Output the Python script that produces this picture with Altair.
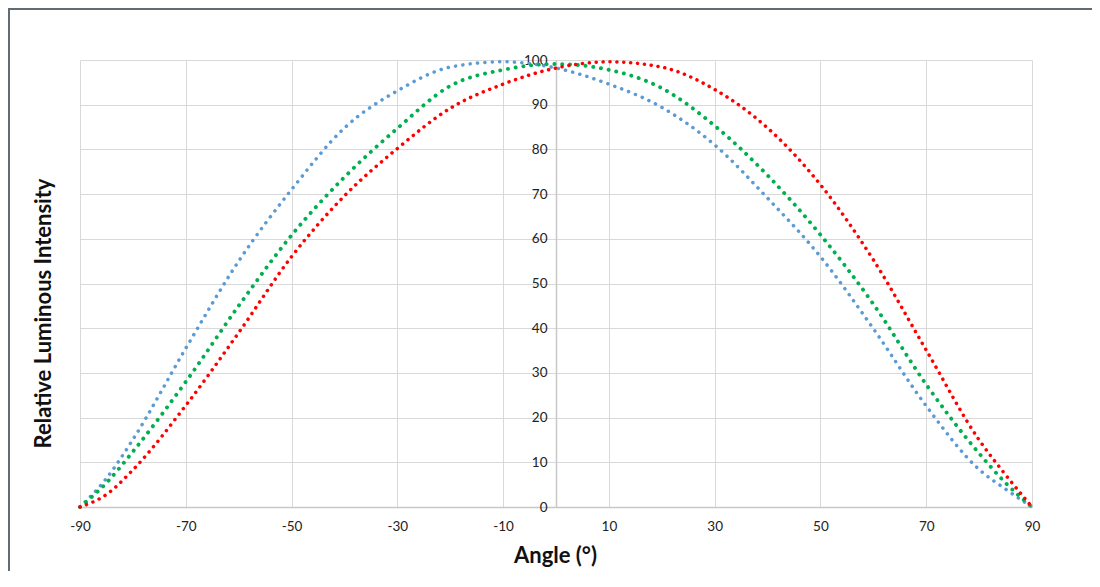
import altair as alt
import pandas as pd

angles = [-90, -85, -80, -70, -60, -50, -40, -30, -20, -10, 0, 10, 20, 30, 40, 50, 60, 70, 80, 85, 90]
blue = [0, 6.4, 15.1, 35.5, 55.0, 71.0, 84.8, 93.1, 98.4, 99.6, 98.2, 94.6, 89.4, 81.0, 69.1, 56.0, 39.9, 22.6, 8.4, 4.0, 0]
green = [0, 5.4, 12.4, 28.0, 45.0, 60.8, 73.8, 84.7, 94.2, 97.8, 99.1, 97.8, 93.7, 85.3, 74.2, 60.9, 45.4, 27.4, 12.0, 5.4, 0]
red = [0, 2.8, 8.3, 22.7, 39.0, 56.0, 69.6, 80.2, 89.2, 94.6, 98.2, 99.6, 98.4, 93.4, 84.8, 72.1, 55.3, 35.1, 15.0, 7.2, 0]

x_ticks = [-90, -70, -50, -30, -10, 10, 30, 50, 70, 90]
y_ticks = [0, 10, 20, 30, 40, 50, 60, 70, 80, 90, 100]

W, H = 952, 447
FONT = "Lato"

series = [
    ("blue", blue, "#5B9BD5", 3.5, 7.3),
    ("green", green, "#00B050", 3.9, 7.7),
    ("red", red, "#FF0000", 3.5, 6.8),
]

x_enc = alt.X(
    "angle:Q",
    scale=alt.Scale(domain=[-90, 90], nice=False, zero=False),
    axis=alt.Axis(
        values=x_ticks, grid=True, gridColor="#d9d9d9", gridWidth=1,
        domainColor="#c8c8c8", domainWidth=1.5, ticks=False,
        labelFlush=False, labelPadding=12, labelFont=FONT, labelFontSize=13.5,
        labelColor="#222222", labelExpr="'' + datum.value",
        title="Angle (°)", titleFont=FONT, titleFontSize=22, titleFontWeight="bold",
        titleColor="#111111", titleX=475, titleY=48, titleBaseline="middle",
        titleAlign="center",
    ),
)
y_enc = alt.Y(
    "value:Q",
    scale=alt.Scale(domain=[0, 100], nice=False),
    axis=alt.Axis(
        values=y_ticks, grid=True, gridColor="#d9d9d9", gridWidth=1,
        offset=-476, domainColor="#c8c8c8", domainWidth=1.5, ticks=False,
        labelPadding=9, labelFont=FONT, labelFontSize=13.5, labelColor="#222222",
        title="Relative Luminous Intensity", titleFont=FONT, titleFontSize=22,
        titleFontWeight="bold", titleColor="#111111", titleAngle=270,
        titleX=-513, titleY=253, titleAlign="center", titleBaseline="middle",
    ),
)

layers = []
for name, vals, color, w, gap in series:
    df = pd.DataFrame({"angle": angles, "value": vals, "series": name})
    layers.append(
        alt.Chart(df).mark_line(
            color=color, strokeWidth=w, strokeCap="round",
            strokeDash=[0.1, gap], interpolate="monotone",
        ).encode(x=x_enc, y=y_enc)
    )

border_left = alt.Chart(pd.DataFrame({"a": [0]})).mark_rule(
    color="#5f6b76", strokeWidth=2
).encode(x=alt.value(-71), y=alt.value(-52), y2=alt.value(H + 64))
border_top = alt.Chart(pd.DataFrame({"a": [0]})).mark_rule(
    color="#5f6b76", strokeWidth=2
).encode(x=alt.value(-72), x2=alt.value(W + 60), y=alt.value(-51))

chart = alt.layer(*layers, border_left, border_top).properties(
    width=W, height=H,
    autosize=alt.AutoSizeParams(type="none"),
    padding={"left": 72, "top": 52, "right": 60, "bottom": 64},
    background="white",
).configure_view(stroke="transparent")

chart.save("out.html", embed_options={"renderer": "svg", "actions": False})
